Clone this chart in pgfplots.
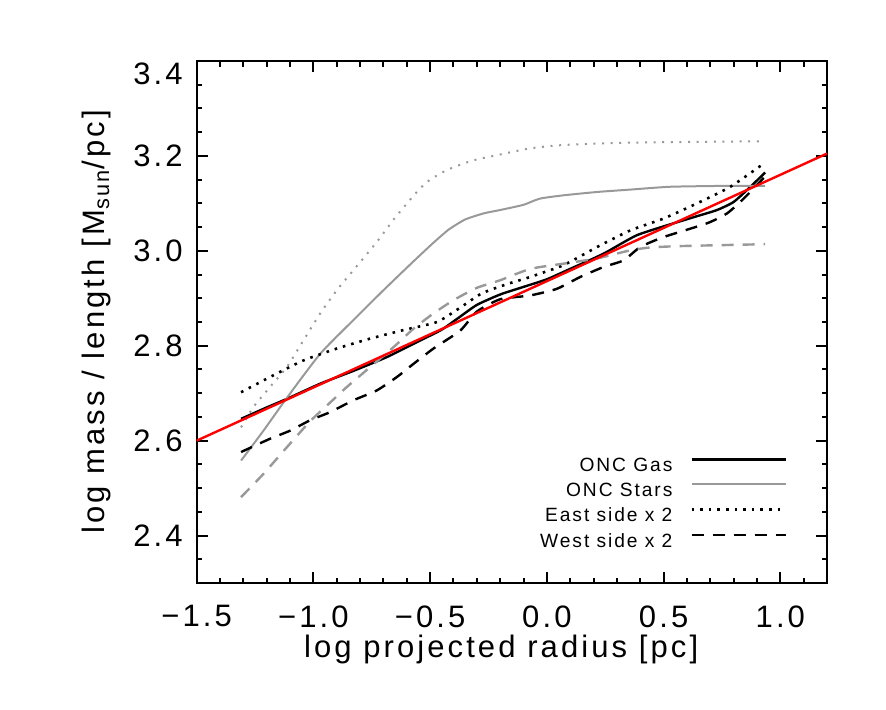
\documentclass[border=0pt]{standalone}
\usepackage{fontspec}
\setmainfont{Liberation Sans}[LetterSpace=10]
\usepackage{pgfplots}
\pgfplotsset{compat=1.18}

\definecolor{linegray}{gray}{0.6}
\newcommand{\bigfont}{\fontsize{15.5}{18}\selectfont}
\newcommand{\legfont}{\fontsize{9.6}{10}\selectfont}

\begin{document}
\begin{tikzpicture}
\path[use as bounding box] (0,0) rectangle (443pt,354.5pt);
\begin{axis}[
  at={(98.35pt,63pt)}, anchor=south west,
  scale only axis, width=315.15pt, height=261pt,
  xmin=-1.5, xmax=1.2, ymin=2.3, ymax=3.4,
  axis line style={line width=1.2pt},
  every tick/.style={black, line width=1pt},
  major tick length=5.5pt, minor tick length=2.75pt,
  xtick={-1.5,-1,-0.5,0,0.5,1},
  xticklabels={−1.5,−1.0,−0.5,0.0,0.5,1.0},
  minor xtick={-1.4,-1.3,-1.2,-1.1,-0.9,-0.8,-0.7,-0.6,-0.4,-0.3,-0.2,-0.1,0.1,0.2,0.3,0.4,0.6,0.7,0.8,0.9,1.1},
  ytick={2.4,2.6,2.8,3.0,3.2},
  yticklabels={2.4,2.6,2.8,3.0,3.2},
  extra y ticks={3.4}, extra y tick labels={3.4},
  extra y tick style={yticklabel style={yshift=-6.5pt}},
  minor ytick={2.35,2.45,2.5,2.55,2.65,2.7,2.75,2.85,2.9,2.95,3.05,3.1,3.15,3.25,3.3,3.35},
  xticklabel style={font=\bigfont, inner sep=0pt, anchor=north, yshift=-11pt},
  yticklabel style={font=\bigfont, inner sep=0pt, anchor=east, xshift=-6.85pt},
  xlabel={log projected radius [pc]},
  ylabel={log mass / length [M\textsubscript{sun}/pc]},
  label style={font=\bigfont},
  xlabel style={at={(axis description cs:0.483,-0.1418)}, anchor=base},
  ylabel style={at={(axis description cs:-0.1456,0.5)}, anchor=base},
  legend style={draw=none, fill=none, inner sep=0pt, outer sep=0pt,
    at={(axis description cs:0.9365,0.2395)}, anchor=north east,
    font=\legfont, row sep=4.3pt, column sep=9pt,
    nodes={inner sep=0pt}},
  legend cell align=right,
  legend plot pos=right,
  legend image code/.code={\draw[#1] (0pt,3.4pt) -- (47pt,3.4pt);},
  every axis plot/.append style={smooth, tension=0.35},
]

% ONC gas
\addplot[black, line width=1.2pt] coordinates {
(-1.31,2.646) (-1.2,2.670) (-1.114,2.688) (-0.971,2.720) (-0.829,2.747)
(-0.686,2.776) (-0.543,2.811) (-0.45,2.834) (-0.378,2.859) (-0.3,2.886)
(-0.2,2.908) (-0.1,2.924) (0.0,2.940) (0.1,2.962) (0.2,2.984)
(0.258,2.998) (0.386,3.033) (0.543,3.058) (0.65,3.074) (0.729,3.086)
(0.80,3.103) (0.872,3.135) (0.935,3.165)};
\addlegendentry{ONC Gas}

% ONC stars
\addplot[linegray, line width=1pt] coordinates {
(-1.31,2.558) (-1.214,2.621) (-1.114,2.690) (-0.971,2.783) (-0.829,2.854)
(-0.7,2.917) (-0.571,2.978) (-0.486,3.017) (-0.42,3.045) (-0.35,3.066)
(-0.27,3.079) (-0.2,3.086) (-0.1,3.097) (-0.03,3.110) (0.072,3.117)
(0.215,3.124) (0.357,3.129) (0.529,3.135) (0.786,3.137) (0.935,3.137)};
\addlegendentry{ONC Stars}

% east side, doubled
\addplot[black, line width=1.3pt, dash pattern=on 1.3pt off 3pt] coordinates {
(-1.31,2.702) (-1.186,2.734) (-1.043,2.769) (-0.9,2.794) (-0.757,2.815)
(-0.614,2.833) (-0.471,2.850) (-0.378,2.878) (-0.28,2.910) (-0.17,2.930)
(-0.071,2.945) (0.072,2.970) (0.215,3.008) (0.357,3.043) (0.5,3.068)
(0.643,3.100) (0.786,3.135) (0.935,3.186)};
\addlegendentry{East side x 2}

% west side, doubled
\addplot[black, line width=1.2pt, dash pattern=on 6pt off 4.5pt] coordinates {
(-1.31,2.576) (-1.186,2.604) (-1.1,2.621) (-1.014,2.643) (-0.929,2.660)
(-0.829,2.685) (-0.728,2.706) (-0.64,2.735) (-0.571,2.762) (-0.486,2.794)
(-0.371,2.832) (-0.3,2.872) (-0.2,2.898) (-0.071,2.906) (0.043,2.920)
(0.143,2.945) (0.243,2.966) (0.329,2.980) (0.400,3.008) (0.5,3.029)
(0.686,3.058) (0.772,3.079) (0.843,3.110) (0.935,3.157)};
\addlegendentry{West side x 2}

% stars, east side
\addplot[linegray, line width=1pt, dash pattern=on 1pt off 3.3pt, forget plot] coordinates {
(-1.31,2.628) (-1.257,2.671) (-1.186,2.713) (-1.114,2.755) (-1.043,2.811)
(-0.971,2.868) (-0.9,2.917) (-0.829,2.959) (-0.728,3.019) (-0.65,3.070)
(-0.55,3.128) (-0.5,3.150) (-0.425,3.171) (-0.32,3.190) (-0.2,3.203)
(-0.071,3.216) (0.072,3.223) (0.357,3.228) (0.935,3.231)};

% stars, west side
\addplot[linegray, line width=1.2pt, dash pattern=on 6pt off 4.5pt, forget plot] coordinates {
(-1.31,2.481) (-1.214,2.530) (-1.114,2.586) (-1.014,2.641) (-0.929,2.680)
(-0.864,2.710) (-0.8,2.737) (-0.657,2.797) (-0.571,2.836) (-0.486,2.868)
(-0.4,2.896) (-0.3,2.922) (-0.2,2.938) (-0.071,2.962) (0.072,2.973)
(0.215,2.984) (0.357,3.001) (0.443,3.007) (0.572,3.010) (0.935,3.014)};

% power-law fit
\addplot[red, line width=1.2pt, forget plot] coordinates {(-1.5,2.600) (1.2,3.205)};

\end{axis}
\end{tikzpicture}
\end{document}
